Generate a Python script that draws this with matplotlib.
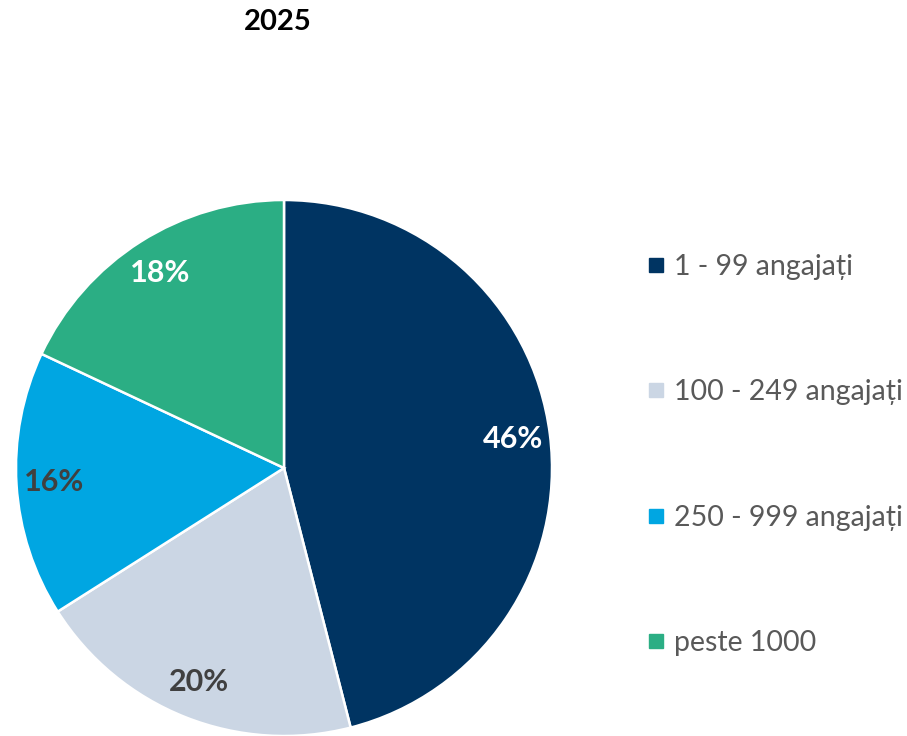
import matplotlib
matplotlib.use('Agg')
import matplotlib.pyplot as plt
from matplotlib.lines import Line2D

title = '2025'
categories = ['1 - 99 angajați', '100 - 249 angajați', '250 - 999 angajați', 'peste 1000']
shares = [46, 20, 16, 18]
colors = ['#003462', '#cbd6e4', '#00a6e2', '#2bae84']
label_colors = ['white', '#404040', '#404040', 'white']

plt.rcParams['font.family'] = ['Lato', 'DejaVu Sans']

fig = plt.figure(figsize=(9.07, 7.36), dpi=100)
ax = fig.add_axes([16 / 907, 0, 536 / 907, 536 / 736])

wedges, texts, autotexts = ax.pie(
	shares, colors=colors, startangle=90, counterclock=False,
	autopct='%d%%', pctdistance=0.86,
	wedgeprops=dict(edgecolor='white', linewidth=1.8),
	textprops=dict(fontsize=22, fontweight='bold'))
for t, c in zip(autotexts, label_colors):
	t.set_color(c)
ax.set_xlim(-1, 1)
ax.set_ylim(-1, 1)
ax.set_aspect('equal')

fig.text(278 / 907, 1 - 22 / 736, title, ha='center', va='center',
	fontsize=21, fontweight='bold', color='black')

# legend on the right
handles = [Line2D([], [], marker='s', linestyle='none', markersize=9.5,
	markerfacecolor=c, markeredgecolor=c) for c in colors]
fig.legend(handles, categories, loc='center left', bbox_to_anchor=(633 / 907, 1 - 455 / 736),
	frameon=False, fontsize=20.5, labelcolor='#595959', labelspacing=3.48,
	handlelength=0.8, handletextpad=0.25, borderaxespad=0)

fig.savefig('out.png', dpi=100)
